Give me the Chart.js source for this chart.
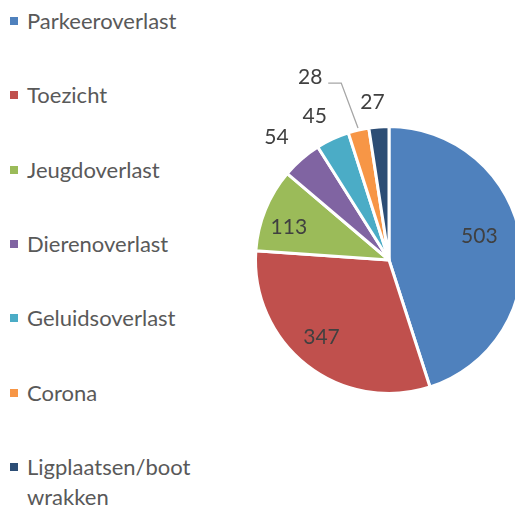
<!DOCTYPE html>
<html>
<head>
<meta charset="utf-8">
<script src="https://cdn.jsdelivr.net/npm/chart.js@4/dist/chart.umd.min.js"></script>
<style>
  html, body { margin: 0; padding: 0; background: #fff; }
  body { width: 515px; height: 507px; overflow: hidden; position: relative; font-family: Lato, "Open Sans", sans-serif; }
  #legend { position: absolute; left: 10px; top: 0; color: #595959; font-size: 22px; }
  #legend .item { position: absolute; left: 0; white-space: nowrap; line-height: 30px; }
  #legend .box { position: absolute; left: 0; top: 11px; width: 8px; height: 8px; }
  #legend .txt { position: absolute; left: 17px; top: 0; }
  #wrap { position: absolute; left: 200px; top: 0; width: 378px; height: 507px; }
</style>
</head>
<body>
<div id="legend"></div>
<div id="wrap"><canvas id="c"></canvas></div>
<script>
const categories = ['Parkeeroverlast', 'Toezicht', 'Jeugdoverlast', 'Dierenoverlast', 'Geluidsoverlast', 'Corona', 'Ligplaatsen/boot wrakken'];
const legendLines = [['Parkeeroverlast'], ['Toezicht'], ['Jeugdoverlast'], ['Dierenoverlast'], ['Geluidsoverlast'], ['Corona'], ['Ligplaatsen/boot', 'wrakken']];
const values = [503, 347, 113, 54, 45, 28, 27];
const colors = ['#4F81BD', '#C0504D', '#9BBB59', '#8064A2', '#4BACC6', '#F79646', '#2C4D75'];

// label placement: fraction of radius, and angle shift (degrees) from the slice middle
const labelRadius = [0.70, 0.77, 0.79, 1.25, 1.21, 1.37, 1.19];
const labelShift = [-6, 3, -4, -1.5, -2.4, 0, -1.6];

// legend (html text)
const legend = document.getElementById('legend');
legendLines.forEach((lines, i) => {
  const item = document.createElement('div');
  item.className = 'item';
  item.style.top = (6 + i * 74.3) + 'px';
  item.innerHTML = `<span class="box" style="background:${colors[i]}"></span><span class="txt">${lines.join('<br>')}</span>`;
  legend.appendChild(item);
});

const valueLabels = {
  id: 'valueLabels',
  afterDatasetsDraw(chart) {
    const ctx = chart.ctx;
    const meta = chart.getDatasetMeta(0);
    ctx.save();
    ctx.font = '21px Lato, "Open Sans", sans-serif';
    ctx.fillStyle = '#404040';
    ctx.textAlign = 'center';
    ctx.textBaseline = 'middle';
    meta.data.forEach((arc, i) => {
      const mid = (arc.startAngle + arc.endAngle) / 2;
      const R = arc.outerRadius;
      if (i === 5) {
        // pulled-out label with a leader line
        const ex = arc.x + Math.cos(mid) * (R + 2), ey = arc.y + Math.sin(mid) * (R + 2);
        const lx = arc.x - 0.59 * R, ly = arc.y - 1.37 * R;
        ctx.strokeStyle = '#A6A6A6';
        ctx.lineWidth = 1.3;
        ctx.beginPath();
        ctx.moveTo(lx + 18, ly + 6);
        ctx.lineTo(lx + 31, ly + 6);
        ctx.lineTo(ex, ey);
        ctx.stroke();
        ctx.fillText(String(values[i]), lx, ly);
        return;
      }
      const a = mid + labelShift[i] * Math.PI / 180;
      const r = R * labelRadius[i];
      ctx.fillText(String(values[i]), arc.x + Math.cos(a) * r, arc.y + Math.sin(a) * r);
    });
    ctx.restore();
  }
};

new Chart(document.getElementById('c'), {
  type: 'pie',
  data: {
    labels: categories,
    datasets: [{
      data: values,
      backgroundColor: colors,
      borderColor: '#ffffff',
      borderWidth: 3
    }]
  },
  options: {
    responsive: true,
    maintainAspectRatio: false,
    animation: false,
    layout: { padding: { left: 54, right: 54, top: 125, bottom: 112 } },
    plugins: {
      legend: { display: false },
      tooltip: { enabled: false }
    }
  },
  plugins: [valueLabels]
});
</script>
</body>
</html>
